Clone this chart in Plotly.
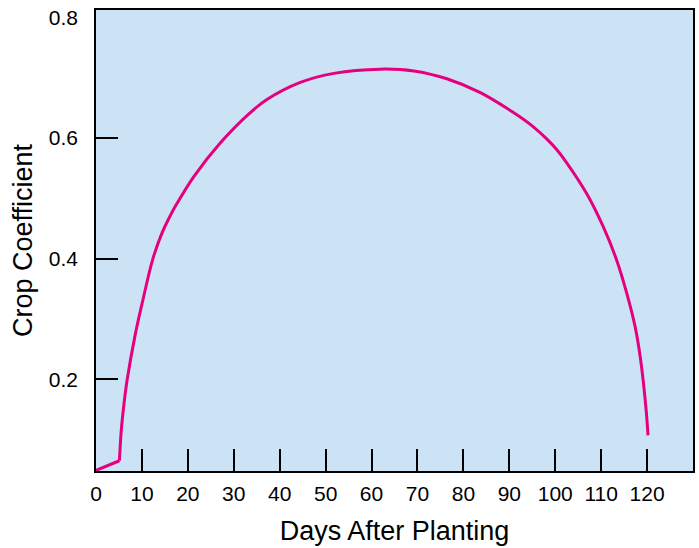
import plotly.graph_objects as go

# Early linear segment
early_days = [0, 5.1]
early_kc = [0.049, 0.065]

# Main curve
days = [5.1, 5.5, 6.2, 6.8, 8.6, 10.2, 12.4, 14.3, 16.1, 17.3, 21.3, 27.1, 33.3,
        37.3, 44.5, 51.8, 61.9, 69.2, 76.4, 83.7, 90.9, 95.3, 98.2, 100.4,
        102.2, 106.9, 110.5, 113.4, 115.6, 117.4, 118.6, 119.8, 120.2]
kc = [0.065, 0.115, 0.166, 0.200, 0.276, 0.331, 0.400, 0.441, 0.470, 0.487,
      0.536, 0.592, 0.640, 0.664, 0.692, 0.707, 0.714, 0.711, 0.698, 0.675,
      0.642, 0.618, 0.598, 0.580, 0.562, 0.507, 0.452, 0.397, 0.342, 0.287,
      0.232, 0.149, 0.107]

x_tick_vals = [0, 10, 20, 30, 40, 50, 60, 70, 80, 90, 100, 110, 120]
x_tick_text = [str(v) for v in x_tick_vals]
y_tick_vals = [0.2, 0.4, 0.6, 0.8]
y_tick_text = ["0.2", "0.4", "0.6", "0.8"]

LINE = "#e5007d"
FONT = "Liberation Sans, Arial, sans-serif"

fig = go.Figure()
fig.add_trace(go.Scatter(x=early_days, y=early_kc, mode="lines",
                         line=dict(color=LINE, width=3), showlegend=False,
                         hoverinfo="skip"))
fig.add_trace(go.Scatter(x=days, y=kc, mode="lines",
                         line=dict(color=LINE, width=3, shape="spline", smoothing=1.0),
                         showlegend=False, hoverinfo="skip"))

fig.update_layout(
    width=699, height=548,
    margin=dict(l=96, r=6, t=10, b=77),
    paper_bgcolor="white",
    plot_bgcolor="#cce3f6",
    font=dict(family=FONT, color="black"),
    xaxis=dict(
        range=[0, 130], showgrid=False, zeroline=False, automargin=False,
        showline=True, linecolor="black", linewidth=1.5, mirror=True,
        tickvals=x_tick_vals, ticktext=x_tick_text, ticks="",
        tickfont=dict(size=21), ticklabelstandoff=3,
        minor=dict(tickvals=x_tick_vals[1:], ticks="inside", ticklen=22,
                   tickwidth=1.5, tickcolor="black", showgrid=False),
        title=dict(text="Days After Planting", font=dict(size=27), standoff=17),
    ),
    yaxis=dict(
        range=[0.048, 0.812], showgrid=False, zeroline=False, automargin=False,
        showline=True, linecolor="black", linewidth=1.5, mirror=True,
        tickvals=y_tick_vals, ticktext=y_tick_text, ticks="",
        tickfont=dict(size=21), ticklabelstandoff=12, ticklabeloverflow="allow",
        minor=dict(tickvals=[0.2, 0.4, 0.6], ticks="inside", ticklen=22,
                   tickwidth=1.5, tickcolor="black", showgrid=False),
        title=dict(text="Crop Coefficient", font=dict(size=27), standoff=8),
    ),
)

# remove the browser's default 8px body margin so the figure fills the window
fig.write_html("out.html",
               config={"displayModeBar": False},
               post_script="document.body.style.margin='0';document.body.style.overflow='hidden';")
